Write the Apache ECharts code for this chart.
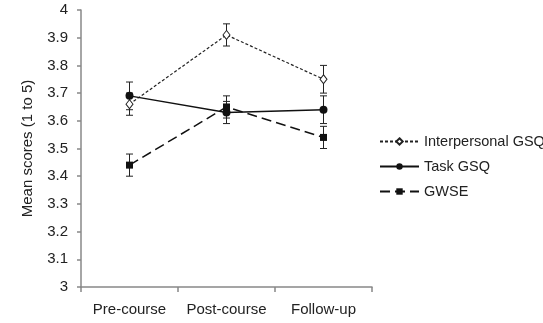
<!DOCTYPE html>
<html><head><meta charset="utf-8">
<script src="https://cdn.jsdelivr.net/npm/echarts@6/dist/echarts.min.js"></script>
<style>html,body{margin:0;padding:0;background:#fff}#c{width:543px;height:323px}</style>
</head><body><div id="c"></div>
<script>
const categories = ['Pre-course', 'Post-course', 'Follow-up'];
const interpersonal = [3.66, 3.91, 3.75];
const interpersonalErr = [0.04, 0.04, 0.05];
const task = [3.69, 3.63, 3.64];
const taskErr = [0.05, 0.04, 0.05];
const gwse = [3.44, 3.65, 3.54];
const gwseErr = [0.04, 0.04, 0.04];

const chart = echarts.init(document.getElementById('c'));
const font = 'Liberation Sans, Arial, sans-serif';

function errData(vals, errs) {
  return vals.map((v, i) => [i, v - errs[i], v + errs[i]]);
}
function errSeries(vals, errs) {
  return {
    type: 'custom',
    data: errData(vals, errs),
    z: 1,
    silent: true,
    renderItem: function (params, api) {
      const x = api.value(0);
      const lo = api.coord([x, api.value(1)]);
      const hi = api.coord([x, api.value(2)]);
      const w = 3.5;
      const st = { stroke: '#222', lineWidth: 1 };
      return {
        type: 'group',
        children: [
          { type: 'line', shape: { x1: lo[0], y1: lo[1], x2: hi[0], y2: hi[1] }, style: st },
          { type: 'line', shape: { x1: lo[0] - w, y1: lo[1], x2: lo[0] + w, y2: lo[1] }, style: st },
          { type: 'line', shape: { x1: hi[0] - w, y1: hi[1], x2: hi[0] + w, y2: hi[1] }, style: st }
        ]
      };
    }
  };
}

chart.setOption({
  animation: false,
  grid: { left: 81, right: 171, top: 10, bottom: 36 },
  legend: {
    left: 379, top: 134, orient: 'vertical', itemGap: 10, padding: 0,
    itemWidth: 39, itemHeight: 8,
    textStyle: { fontFamily: font, fontSize: 14.5, color: '#222' },
    data: ['Interpersonal GSQ', 'Task GSQ', 'GWSE']
  },
  xAxis: {
    type: 'category', data: categories,
    axisLine: { lineStyle: { color: '#888', width: 1.5 } },
    axisTick: { show: true, length: 5, lineStyle: { color: '#888', width: 1.5 } },
    axisLabel: { fontFamily: font, fontSize: 15, color: '#222', margin: 15, interval: 0, hideOverlap: false }
  },
  yAxis: {
    type: 'value', min: 3, max: 4, interval: 0.1,
    name: 'Mean scores (1 to 5)', nameLocation: 'middle', nameGap: 46,
    nameTextStyle: { fontFamily: font, fontSize: 15, color: '#222' },
    axisLine: { show: true, lineStyle: { color: '#888', width: 1.5 } },
    axisTick: { show: true, length: 4, lineStyle: { color: '#888', width: 1.5 } },
    splitLine: { show: false },
    axisLabel: {
      fontFamily: font, fontSize: 15, color: '#222', margin: 13,
      formatter: v => String(Math.round(v * 10) / 10)
    }
  },
  series: [
    errSeries(interpersonal, interpersonalErr),
    errSeries(task, taskErr),
    errSeries(gwse, gwseErr),
    {
      name: 'Interpersonal GSQ', type: 'line', data: interpersonal, z: 3,
      symbol: 'diamond', symbolSize: [7, 9],
      lineStyle: { color: '#222', width: 1.2, type: [3, 2] },
      itemStyle: { color: '#fff', borderColor: '#222', borderWidth: 1 }
    },
    {
      name: 'Task GSQ', type: 'line', data: task, z: 3,
      symbol: 'circle', symbolSize: 8,
      lineStyle: { color: '#111', width: 1.5 },
      itemStyle: { color: '#111' }
    },
    {
      name: 'GWSE', type: 'line', data: gwse, z: 3,
      symbol: 'rect', symbolSize: 7,
      lineStyle: { color: '#111', width: 1.5, type: [10, 5] },
      itemStyle: { color: '#111' }
    }
  ]
});
</script></body></html>
